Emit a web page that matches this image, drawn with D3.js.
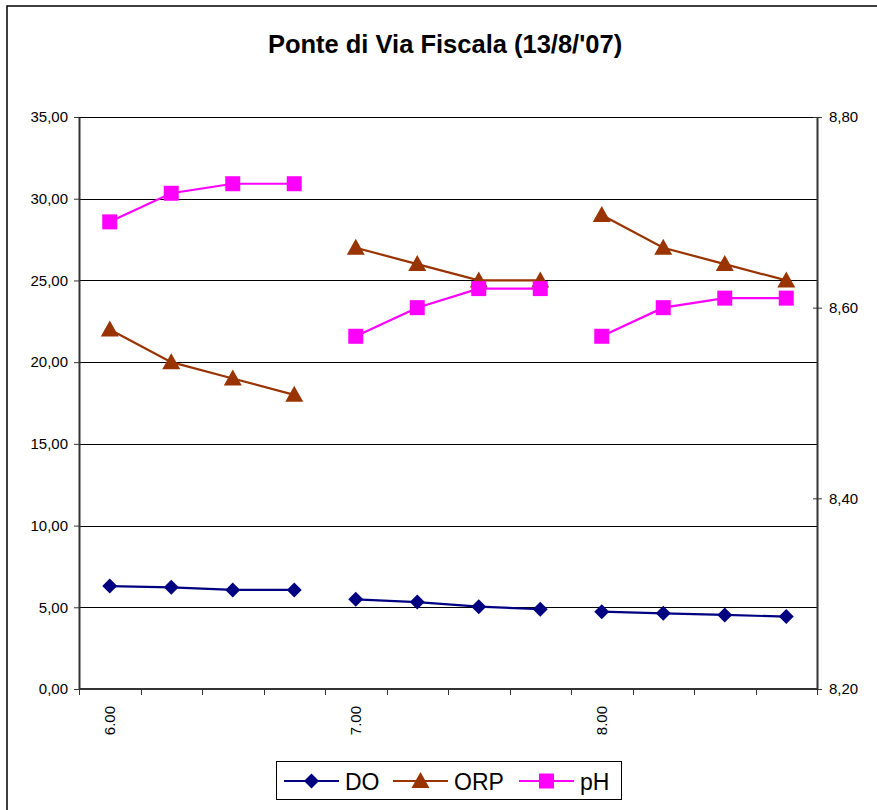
<!DOCTYPE html>
<html>
<head>
<meta charset="utf-8">
<script src="https://cdn.jsdelivr.net/npm/d3@7/dist/d3.min.js"></script>
<style>
  html, body { margin: 0; padding: 0; background: #fff; }
  svg text { font-family: "Liberation Sans", Arial, sans-serif; }
</style>
</head>
<body>
<svg id="chart" width="877" height="810"></svg>
<script>
// ---------- data ----------
const categories = ["6.00","6.15","6.30","6.45","7.00","7.15","7.30","7.45","8.00","8.15","8.30","8.45"];
const tickLabels = ["6.00","7.00","8.00"];
const segments   = [0,0,0,0,1,1,1,1,2,2,2,2];
const doValues   = [6.30, 6.22, 6.06, 6.06, 5.49, 5.32, 5.04, 4.88, 4.73, 4.63, 4.53, 4.43];
const orpValues  = [22, 20, 19, 18, 27, 26, 25, 25, 29, 27, 26, 25];
const phValues   = [8.69, 8.72, 8.73, 8.73, 8.57, 8.60, 8.62, 8.62, 8.57, 8.60, 8.61, 8.61];
const leftTicks  = [0, 5, 10, 15, 20, 25, 30, 35];
const rightTicks = [8.2, 8.4, 8.6, 8.8];
const seriesNames = ["DO", "ORP", "pH"];

// ---------- layout ----------
const svg = d3.select("#chart");
const L = 79, R = 817, T = 117, B = 689;

const x = d3.scalePoint().domain(categories).range([L, R]).padding(0.5);
const step = x.step();
const yL = d3.scaleLinear().domain([0, 35]).range([B, T]);
const yR = d3.scaleLinear().domain([8.2, 8.8]).range([B, T]);

// outer border
svg.append("rect").attr("x", 7).attr("y", 6).attr("width", 900).attr("height", 900)
  .attr("fill", "none").attr("stroke", "#000").attr("stroke-width", 1.5);

// title
svg.append("text").attr("x", 445).attr("y", 53).attr("text-anchor", "middle")
  .attr("font-size", 25.5).attr("font-weight", "bold").text("Ponte di Via Fiscala (13/8/'07)");

// gridlines
svg.append("g").selectAll("line").data(leftTicks.filter(d => d > 0)).join("line")
  .attr("x1", L).attr("x2", R)
  .attr("y1", d => Math.round(yL(d)) + 0.5).attr("y2", d => Math.round(yL(d)) + 0.5)
  .attr("stroke", "#000").attr("stroke-width", 1);

const fmt = d => d.toFixed(2).replace(".", ",");

// left axis
const gL = svg.append("g").attr("transform", `translate(${L},0)`)
  .call(d3.axisLeft(yL).tickValues(leftTicks).tickSize(5).tickSizeOuter(0).tickFormat(fmt));
gL.select(".domain").attr("stroke", "#333").attr("stroke-width", 2);
gL.selectAll(".tick line").attr("stroke", "#333");
gL.selectAll(".tick text").attr("font-size", 15).attr("fill", "#000").attr("x", -11).attr("font-family", "Liberation Sans, Arial, sans-serif");

// right axis
const gR = svg.append("g").attr("transform", `translate(${R},0)`)
  .call(d3.axisRight(yR).tickValues(rightTicks).tickSize(5).tickSizeOuter(0).tickFormat(fmt));
gR.select(".domain").attr("stroke", "#333").attr("stroke-width", 2);
gR.selectAll(".tick line").attr("stroke", "#333").attr("x1", -4);
gR.selectAll(".tick text").attr("font-size", 15).attr("fill", "#000").attr("x", 12).attr("font-family", "Liberation Sans, Arial, sans-serif");

// bottom axis
svg.append("line").attr("x1", L).attr("x2", R).attr("y1", B).attr("y2", B)
  .attr("stroke", "#333").attr("stroke-width", 2);
const bounds = d3.range(categories.length + 1).map(i => L + i * step);
svg.append("g").selectAll("line").data(bounds).join("line")
  .attr("x1", d => Math.round(d) + 0.5).attr("x2", d => Math.round(d) + 0.5)
  .attr("y1", B).attr("y2", B + 6).attr("stroke", "#333").attr("stroke-width", 1);
svg.append("g").selectAll("text").data(tickLabels).join("text")
  .attr("transform", d => `translate(${x(d) + 5},${B + 17}) rotate(-90)`)
  .attr("text-anchor", "end").attr("font-size", 15).text(d => d);

// marker shapes
const shapes = {
  diamond: "M0,-7.5L7.5,0L0,7.5L-7.5,0Z",
  triangle: "M0,-9L9,7L-9,7Z",
  square: "M-7.5,-7.5L7.5,-7.5L7.5,7.5L-7.5,7.5Z"
};

const series = [
  { name: seriesNames[0], values: doValues, y: yL, color: "#000080", shape: shapes.diamond },
  { name: seriesNames[1], values: orpValues, y: yL, color: "#993300", shape: shapes.triangle },
  { name: seriesNames[2], values: phValues, y: yR, color: "#FF00FF", shape: shapes.square }
];

const plot = svg.append("g");
series.forEach(s => {
  const pts = categories.map((c, i) => ({ c, v: s.values[i], seg: segments[i] }));
  const groups = d3.groups(pts, d => d.seg);
  const line = d3.line().x(d => x(d.c)).y(d => s.y(d.v));
  plot.append("g").selectAll("path").data(groups).join("path")
    .attr("d", g => line(g[1])).attr("fill", "none")
    .attr("stroke", s.color).attr("stroke-width", 2.2);
  plot.append("g").selectAll("path").data(pts).join("path")
    .attr("d", s.shape)
    .attr("transform", d => `translate(${x(d.c)},${s.y(d.v)})`)
    .attr("fill", s.color);
});

// legend
const lg = svg.append("g");
lg.append("rect").attr("x", 276.5).attr("y", 761.5).attr("width", 345).attr("height", 38)
  .attr("fill", "#fff").attr("stroke", "#000").attr("stroke-width", 1);
const legX = [284, 393, 519];
series.forEach((s, i) => {
  const g = lg.append("g").attr("transform", `translate(${legX[i]},781)`);
  g.append("line").attr("x1", 0).attr("x2", 55).attr("stroke", s.color).attr("stroke-width", 2.2);
  g.append("path").attr("d", s.shape).attr("transform", "translate(27.5,0)").attr("fill", s.color);
  g.append("text").attr("x", 61).attr("y", 8.5).attr("font-size", 23).text(s.name);
});
</script>
</body>
</html>
